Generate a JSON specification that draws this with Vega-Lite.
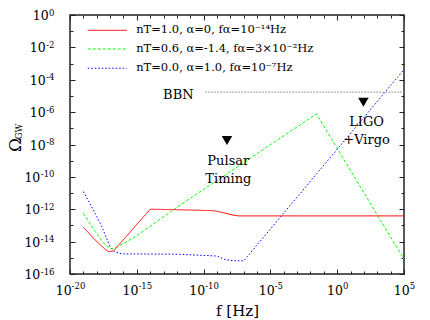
{
  "$schema": "https://vega.github.io/schema/vega-lite/v6.json",
  "width": 334,
  "height": 259,
  "autosize": {"type": "none"},
  "padding": {"left": 70, "top": 15, "right": 26, "bottom": 46},
  "background": "white",
  "config": {
    "view": {"stroke": "#222", "strokeWidth": 1.5},
    "font": "DejaVu Serif",
    "axis": {"labelFont": "DejaVu Serif", "titleFont": "DejaVu Serif", "labelColor": "#000", "titleColor": "#000", "titleFontWeight": "normal", "tickColor": "#222", "tickWidth": 1, "grid": false, "domain": false}
  },
  "datasets": {
    "curves": [
      {"series": "c", "f": 1e-19, "omega": 1.23e-11},
      {"series": "c", "f": 7.59e-19, "omega": 5.62e-13},
      {"series": "c", "f": 2.4e-18, "omega": 8.32e-14},
      {"series": "c", "f": 1e-17, "omega": 4.9e-15},
      {"series": "c", "f": 2.09e-17, "omega": 2.4e-15},
      {"series": "c", "f": 7.59e-17, "omega": 1.74e-15},
      {"series": "c", "f": 7.59e-16, "omega": 1.74e-15},
      {"series": "c", "f": 1.32e-12, "omega": 1.66e-15},
      {"series": "c", "f": 1e-9, "omega": 1.29e-15},
      {"series": "c", "f": 3.16e-9, "omega": 8.32e-16},
      {"series": "c", "f": 1e-8, "omega": 6.76e-16},
      {"series": "c", "f": 1e-7, "omega": 6.46e-16},
      {"series": "c", "f": 1e5, "omega": 4.27e-4},
      {"series": "b", "f": 1e-19, "omega": 5.62e-13},
      {"series": "b", "f": 7.59e-19, "omega": 4.17e-14},
      {"series": "b", "f": 4.27e-18, "omega": 6.17e-15},
      {"series": "b", "f": 1.35e-17, "omega": 3.55e-15},
      {"series": "b", "f": 3.98e-17, "omega": 5.01e-15},
      {"series": "b", "f": 7.59e-16, "omega": 2.0e-14},
      {"series": "b", "f": 1.778e-12, "omega": 1.82e-12},
      {"series": "b", "f": 2.82e-2, "omega": 7.76e-7},
      {"series": "b", "f": 1e5, "omega": 8.13e-16},
      {"series": "a", "f": 1e-19, "omega": 7.76e-14},
      {"series": "a", "f": 7.59e-19, "omega": 1.259e-14},
      {"series": "a", "f": 4.27e-18, "omega": 3.39e-15},
      {"series": "a", "f": 7.59e-18, "omega": 2.4e-15},
      {"series": "a", "f": 1.778e-17, "omega": 2.63e-15},
      {"series": "a", "f": 1e-14, "omega": 1e-12},
      {"series": "a", "f": 5.01e-13, "omega": 9.55e-13},
      {"series": "a", "f": 3.162e-11, "omega": 8.71e-13},
      {"series": "a", "f": 5.62e-10, "omega": 8.13e-13},
      {"series": "a", "f": 2.4e-9, "omega": 6.46e-13},
      {"series": "a", "f": 1.35e-8, "omega": 4.47e-13},
      {"series": "a", "f": 3.98e-8, "omega": 3.89e-13},
      {"series": "a", "f": 1e5, "omega": 3.89e-13}
    ],
    "bbn": [{"f1": 1.35e-10, "f2": 1e5, "omega": 1.7e-5}],
    "bbnLabel": [{"f": 1.78e-11, "omega": 6.46e-6, "label": "BBN"}],
    "legend": [
      {"series": "a", "f1": 2.14e-19, "f2": 1.78e-16, "ft": 8.91e-16, "omega": 0.1135, "label": "nT=1.0, α=0, fα=10⁻¹⁴Hz"},
      {"series": "b", "f1": 2.14e-19, "f2": 1.78e-16, "ft": 8.91e-16, "omega": 7.94e-3, "label": "nT=0.6, α=-1.4, fα=3×10⁻²Hz"},
      {"series": "c", "f1": 2.14e-19, "f2": 1.78e-16, "ft": 8.91e-16, "omega": 5.13e-4, "label": "nT=0.0, α=1.0, fα=10⁻⁷Hz"}
    ],
    "markers": [
      {"name": "Pulsar Timing", "f": 5.62e-9, "omega": 1.78e-8},
      {"name": "LIGO+Virgo", "f": 91.2, "omega": 4.07e-6}
    ],
    "notes": [
      {"f": 7.08e-9, "omega": 5.43e-10, "label": "Pulsar"},
      {"f": 7.08e-9, "omega": 4.17e-11, "label": "Timing"},
      {"f": 158, "omega": 1.39e-7, "label": "LIGO"},
      {"f": 158, "omega": 1.08e-8, "label": "+Virgo"}
    ]
  },
  "resolve": {"axis": {"x": "independent", "y": "independent"}},
  "layer": [
    {
      "data": {"name": "curves"},
      "mark": {"type": "line", "strokeWidth": 1, "clip": true},
      "encoding": {
        "x": {
          "field": "f", "type": "quantitative",
          "scale": {"type": "log", "domain": [1e-20, 1e5], "nice": false},
          "axis": {
            "orient": "bottom",
            "values": [1e-20, 1e-19, 1e-18, 1e-17, 1e-16, 1e-15, 1e-14, 1e-13, 1e-12, 1e-11, 1e-10, 1e-9, 1e-8, 1e-7, 1e-6, 1e-5, 1e-4, 1e-3, 1e-2, 1e-1, 1, 10, 100, 1000, 10000, 100000],
            "tickSize": {"condition": {"test": "round(log(datum.value)/LN10)%5==0", "value": -5}, "value": -3},
            "labelExpr": "round(log(datum.value)/LN10)%5!=0?'':'10'",
            "labelFontSize": 12.5,
            "labelBaseline": "alphabetic",
            "labelAlign": "center",
            "labelPadding": 25,
            "labelOffset": {"condition": [{"test": "abs(round(log(datum.value)/LN10))>=10", "value": -6.85}, {"test": "round(log(datum.value)/LN10)<0", "value": -4.15}], "value": -2.7},
            "labelFlush": false,
            "labelOverlap": false,
            "title": "f [Hz]",
            "titleFontSize": 15,
            "titleX": 167,
            "titleY": 41,
            "titleAlign": "center",
            "titleBaseline": "alphabetic"
          }
        },
        "y": {
          "field": "omega", "type": "quantitative",
          "scale": {"type": "log", "domain": [1e-16, 1], "nice": false},
          "axis": {
            "orient": "left",
            "values": [1e-16, 1e-15, 1e-14, 1e-13, 1e-12, 1e-11, 1e-10, 1e-9, 1e-8, 1e-7, 1e-6, 1e-5, 1e-4, 1e-3, 1e-2, 1e-1, 1],
            "tickSize": {"condition": {"test": "round(log(datum.value)/LN10)%2==0", "value": -5}, "value": -3},
            "labelExpr": "round(log(datum.value)/LN10)%2!=0?'':'10'",
            "labelFontSize": 12.5,
            "labelAlign": "right",
            "labelBaseline": "middle",
            "labelPadding": {"condition": [{"test": "abs(round(log(datum.value)/LN10))>=10", "value": 35.2}, {"test": "round(log(datum.value)/LN10)<0", "value": 29.8}], "value": 26.9},
            "labelOffset": 0.5,
            "labelOverlap": false,
            "labelFlush": false,
            "title": "Ω",
            "titleFontSize": 17,
            "titleAngle": -90,
            "titleX": -50,
            "titleY": 129.5,
            "titleAlign": "center",
            "titleBaseline": "alphabetic"
          }
        },
        "color": {"field": "series", "type": "nominal", "scale": {"domain": ["a", "b", "c"], "range": ["#ff0000", "#00ff00", "#0000ff"]}, "legend": null},
        "strokeDash": {"field": "series", "type": "nominal", "scale": {"domain": ["a", "b", "c"], "range": [[1, 0], [3, 2], [1.5, 2]]}, "legend": null}
      }
    },
    {
      "data": {"name": "bbn"},
      "mark": {"type": "rule", "stroke": "#999999", "strokeWidth": 1.2, "strokeDash": [1.5, 1.5]},
      "encoding": {
        "x": {
          "field": "f1", "type": "quantitative",
          "scale": {"type": "log", "domain": [1e-20, 1e5], "nice": false},
          "axis": {
            "orient": "top",
            "values": [1e-20, 1e-19, 1e-18, 1e-17, 1e-16, 1e-15, 1e-14, 1e-13, 1e-12, 1e-11, 1e-10, 1e-9, 1e-8, 1e-7, 1e-6, 1e-5, 1e-4, 1e-3, 1e-2, 1e-1, 1, 10, 100, 1000, 10000, 100000],
            "tickSize": {"condition": {"test": "round(log(datum.value)/LN10)%5==0", "value": -5}, "value": -3},
            "labels": false,
            "title": null
          }
        },
        "x2": {"field": "f2"},
        "y": {
          "field": "omega", "type": "quantitative",
          "scale": {"type": "log", "domain": [1e-16, 1], "nice": false},
          "axis": {
            "orient": "right",
            "values": [1e-16, 1e-15, 1e-14, 1e-13, 1e-12, 1e-11, 1e-10, 1e-9, 1e-8, 1e-7, 1e-6, 1e-5, 1e-4, 1e-3, 1e-2, 1e-1, 1],
            "tickSize": {"condition": {"test": "round(log(datum.value)/LN10)%2==0", "value": -5}, "value": -3},
            "labels": false,
            "title": null
          }
        }
      }
    },
    {
      "data": {"name": "legend"},
      "mark": {"type": "rule", "strokeWidth": 1},
      "encoding": {
        "x": {"field": "f1", "type": "quantitative", "scale": {"type": "log", "domain": [1e-20, 1e5], "nice": false}, "axis": null},
        "x2": {"field": "f2"},
        "y": {
          "field": "omega", "type": "quantitative",
          "scale": {"type": "log", "domain": [1e-16, 1], "nice": false},
          "axis": {
            "orient": "left",
            "labels": false,
            "ticks": false,
            "title": "GW",
            "titleFontSize": 8.5,
            "titleAngle": -90,
            "titleX": -49,
            "titleY": 116,
            "titleAlign": "center",
            "titleBaseline": "alphabetic"
          }
        },
        "color": {"field": "series", "type": "nominal", "scale": {"domain": ["a", "b", "c"], "range": ["#ff0000", "#00ff00", "#0000ff"]}, "legend": null},
        "strokeDash": {"field": "series", "type": "nominal", "scale": {"domain": ["a", "b", "c"], "range": [[1, 0], [3, 2], [1.5, 2]]}, "legend": null}
      }
    },
    {
      "data": {"name": "legend"},
      "mark": {"type": "text", "align": "left", "baseline": "middle", "fontSize": 11.5, "font": "DejaVu Serif", "color": "#000"},
      "encoding": {
        "x": {
          "field": "ft", "type": "quantitative",
          "scale": {"type": "log", "domain": [1e-20, 1e5], "nice": false},
          "axis": {
            "orient": "bottom",
            "values": [1e-20, 1e-15, 1e-10, 1e-5, 1, 100000],
            "ticks": false,
            "tickSize": 0,
            "labelExpr": "''+round(log(datum.value)/LN10)",
            "labelFontSize": 8.5,
            "labelBaseline": "alphabetic",
            "labelAlign": "left",
            "labelPadding": 14.4,
            "labelOffset": {"condition": [{"test": "abs(round(log(datum.value)/LN10))>=10", "value": 1.1}, {"test": "round(log(datum.value)/LN10)<0", "value": 3.8}], "value": 5.25},
            "labelFlush": false,
            "labelOverlap": false,
            "title": null
          }
        },
        "y": {
          "field": "omega", "type": "quantitative",
          "scale": {"type": "log", "domain": [1e-16, 1], "nice": false},
          "axis": {
            "orient": "left",
            "values": [1e-16, 1e-14, 1e-12, 1e-10, 1e-8, 1e-6, 1e-4, 1e-2, 1],
            "ticks": false,
            "tickSize": 0,
            "labelExpr": "''+round(log(datum.value)/LN10)",
            "labelFontSize": 8.5,
            "labelAlign": "right",
            "labelBaseline": "middle",
            "labelPadding": 16,
            "labelOffset": -3,
            "labelFlush": false,
            "labelOverlap": false,
            "title": null
          }
        },
        "text": {"field": "label"}
      }
    },
    {
      "data": {"name": "bbnLabel"},
      "mark": {"type": "text", "align": "right", "baseline": "alphabetic", "fontSize": 13, "font": "DejaVu Serif", "color": "#000"},
      "encoding": {
        "x": {"field": "f", "type": "quantitative", "scale": {"type": "log", "domain": [1e-20, 1e5], "nice": false}, "axis": null},
        "y": {"field": "omega", "type": "quantitative", "scale": {"type": "log", "domain": [1e-16, 1], "nice": false}, "axis": null},
        "text": {"field": "label"}
      }
    },
    {
      "data": {"name": "notes"},
      "mark": {"type": "text", "align": "center", "baseline": "alphabetic", "fontSize": 13, "font": "DejaVu Serif", "color": "#000"},
      "encoding": {
        "x": {"field": "f", "type": "quantitative", "scale": {"type": "log", "domain": [1e-20, 1e5], "nice": false}, "axis": null},
        "y": {"field": "omega", "type": "quantitative", "scale": {"type": "log", "domain": [1e-16, 1], "nice": false}, "axis": null},
        "text": {"field": "label"}
      }
    },
    {
      "data": {"name": "markers"},
      "mark": {"type": "point", "shape": "triangle-down", "filled": true, "color": "#000", "size": 110, "opacity": 1},
      "encoding": {
        "x": {"field": "f", "type": "quantitative", "scale": {"type": "log", "domain": [1e-20, 1e5], "nice": false}, "axis": null},
        "y": {"field": "omega", "type": "quantitative", "scale": {"type": "log", "domain": [1e-16, 1], "nice": false}, "axis": null}
      }
    }
  ]
}
